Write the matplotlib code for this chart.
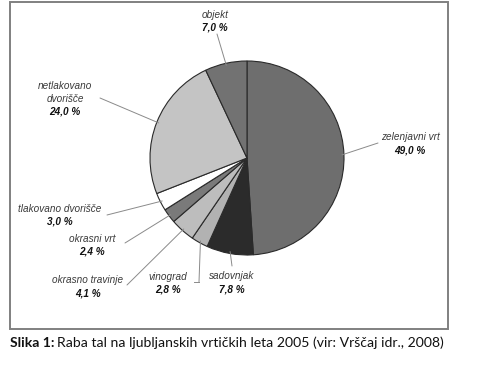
import matplotlib
matplotlib.use("Agg")
import matplotlib.pyplot as plt
from matplotlib.patches import Rectangle
from matplotlib.lines import Line2D
import numpy as np

categories = ["zelenjavni vrt", "sadovnjak", "vinograd", "okrasno travinje",
              "okrasni vrt", "tlakovano dvorišče", "netlakovano\ndvorišče", "objekt"]
values = [49.0, 7.8, 2.8, 4.1, 2.4, 3.0, 24.0, 7.0]
value_labels = ["49,0 %", "7,8 %", "2,8 %", "4,1 %", "2,4 %", "3,0 %", "24,0 %", "7,0 %"]
colors = ["#6e6e6e", "#2b2b2b", "#b2b2b2", "#bdbdbd", "#7a7a7a", "#ffffff", "#c4c4c4", "#727272"]

W, H = 486, 367
fig = plt.figure(figsize=(W / 100, H / 100), dpi=100)

# pie axes: center (247,158), radius ~97 px
cx, cy, r = 247, 158, 97
ax = fig.add_axes([(cx - r) / W, (H - cy - r) / H, 2 * r / W, 2 * r / H])
wedges, _ = ax.pie(values, colors=colors, startangle=90, counterclock=False,
                   wedgeprops=dict(edgecolor="#2a2a2a", linewidth=0.8))
ax.set_xlim(-1, 1)
ax.set_ylim(-1, 1)
ax.set_aspect("equal")
ax.axis("off")

# label layout (image pixel coords): first text line center, line end
label_pos = [(410, 137), (232, 276), (168, 277), (88, 280), (92, 239), (60, 209), (65, 86), (215, 15)]
line_end = [(378, 143), (232, 266), (199, 282), (127, 285), (125, 243), (107, 215), (100, 98), (217, 34)]
line_gap = 13

for i, (w, name, vl, (tx, ty), (lx, ly)) in enumerate(
        zip(wedges, categories, value_labels, label_pos, line_end)):
    mid = np.deg2rad((w.theta1 + w.theta2) / 2)
    ax_pt = (np.cos(mid) * 0.98, np.sin(mid) * 0.98)
    ax.annotate("", xy=ax_pt, xycoords="data",
                xytext=(lx, H - ly), textcoords="figure pixels",
                arrowprops=dict(arrowstyle="-", color="#8a8a8a", lw=0.7,
                                shrinkA=0, shrinkB=0), annotation_clip=False)
    lines = name.split("\n")
    for k, ln in enumerate(lines):
        fig.text(tx / W, (H - ty - line_gap * k) / H, ln, ha="center", va="center",
                 fontsize=7.2, family="Liberation Sans", style="italic", color="#3a3a3a")
    fig.text(tx / W, (H - ty - line_gap * len(lines)) / H, vl, ha="center", va="center",
             fontsize=7.2, family="Liberation Sans", style="italic", weight="bold",
             color="#111111")

# vinograd leader tick
vx, vy = line_end[2]
fig.add_artist(Line2D([vx / W, (vx - 5) / W], [(H - vy) / H, (H - vy) / H],
                      transform=fig.transFigure, color="#8a8a8a", lw=0.7))

# frame
fig.add_artist(Rectangle((10 / W, (H - 329) / H), 438 / W, 327 / H, transform=fig.transFigure,
                         fill=False, edgecolor="#808080", linewidth=1.4))

# caption
cap_y = (H - 343) / H
t1 = fig.text(10 / W, cap_y, "Slika 1:", ha="left", va="center", fontsize=10.1,
              family="Lato", weight="bold", color="#111111")
fig.canvas.draw()
bb = t1.get_window_extent()
fig.text((bb.x1 + 2) / W, cap_y, "Raba tal na ljubljanskih vrtičkih leta 2005 (vir: Vrščaj idr., 2008)",
         ha="left", va="center", fontsize=10.1, family="Lato", color="#111111")

fig.savefig("out.png", dpi=100, facecolor="white")
